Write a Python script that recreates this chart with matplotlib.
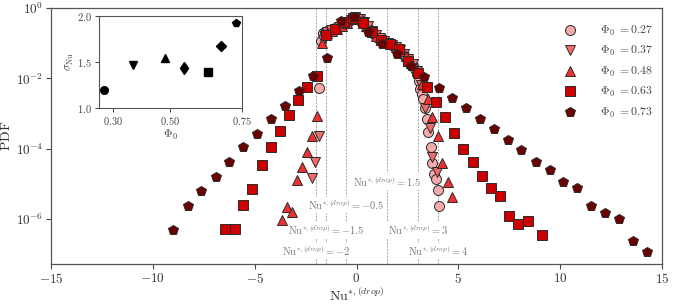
import numpy as np
import matplotlib
matplotlib.use("Agg")
import matplotlib.pyplot as plt

plt.rcParams['mathtext.fontset'] = 'cm'
plt.rcParams['font.family'] = ['serif']
plt.rcParams['font.serif'] = ['DejaVu Serif']

# ---------------- data ----------------
phi_labels = ["0.27", "0.37", "0.48", "0.63", "0.73"]

x027 = [-1.84, -1.75, -1.65, -1.55, -1.45, -1.35, -1.25, -1.15, -1.05, -0.95, -0.85, -0.75,
        -0.65, -0.55, -0.45, -0.35, -0.25, -0.15, -0.05, 0.05, 0.15, 0.25, 0.35, 0.45, 0.55,
        0.65, 0.75, 0.85, 0.95, 1.05, 1.15, 1.25, 1.35, 1.45, 1.55, 1.65, 1.75, 1.85, 1.95,
        2.05, 2.15, 2.25, 2.35, 2.45, 2.55, 2.65, 2.75, 2.85, 2.95, 3.06, 3.14, 3.2, 3.28,
        3.36, 3.44, 3.52, 3.64, 3.72, 3.81, 3.88, 3.98, 4.06]
l027 = [-2.28, -0.95, -0.72, -0.68, -0.66, -0.64, -0.62, -0.6, -0.58, -0.56, -0.53, -0.5,
        -0.47, -0.43, -0.4, -0.36, -0.32, -0.29, -0.27, -0.28, -0.32, -0.38, -0.44, -0.5, -0.56,
        -0.62, -0.68, -0.74, -0.79, -0.84, -0.88, -0.92, -0.95, -0.98, -1.0, -1.03, -1.06, -1.09,
        -1.13, -1.17, -1.22, -1.28, -1.35, -1.42, -1.5, -1.58, -1.66, -1.74, -1.85, -2.07, -2.31,
        -2.45, -2.59, -2.85, -3.17, -3.52, -3.94, -4.4, -4.72, -4.87, -5.17, -5.62]

x037 = [-2.2, -2.03, -1.84, -1.65, -1.45, -1.25, -1.05, -0.85, -0.65, -0.45, -0.25, -0.05,
        0.15, 0.35, 0.55, 0.75, 0.95, 1.15, 1.35, 1.55, 1.75, 1.95, 2.15, 2.35, 2.55, 2.75,
        2.95, 3.15, 3.36, 3.6, 3.73, 3.96]
l037 = [-4.84, -4.37, -3.64, -0.9, -0.68, -0.63, -0.59, -0.54, -0.48, -0.42, -0.33, -0.27,
        -0.3, -0.4, -0.52, -0.64, -0.76, -0.86, -0.94, -0.99, -1.04, -1.1, -1.19, -1.3, -1.44,
        -1.6, -1.78, -2.2, -2.85, -3.4, -4.23, -4.65]

x048 = [-3.65, -3.42, -3.15, -2.9, -2.67, -2.41, -2.17, -1.92, -1.71, -1.47, -1.22, -0.98,
        -0.73, -0.49, -0.24, 0.0, 0.25, 0.49, 0.74, 0.98, 1.23, 1.47, 1.72, 1.96, 2.21, 2.45,
        2.7, 2.96, 3.23, 3.5, 3.73, 3.98, 4.22, 4.5, 4.71]
l048 = [-6.03, -5.67, -5.81, -4.89, -4.53, -4.1, -3.63, -3.06, -0.99, -0.72, -0.64, -0.59,
        -0.52, -0.43, -0.32, -0.27, -0.35, -0.5, -0.67, -0.8, -0.91, -0.98, -1.03, -1.1, -1.22,
        -1.37, -1.56, -1.8, -2.15, -2.59, -3.09, -3.64, -4.4, -4.96, -5.37]

x063 = [-6.45, -5.99, -5.55, -5.11, -4.65, -4.2, -3.75, -3.31, -2.86, -2.41, -1.96, -1.51,
        -1.06, -0.6, -0.15, 0.3, 0.75, 1.2, 1.65, 2.1, 2.55, 3.0, 3.45, 3.9, 4.35, 4.8, 5.25,
        5.7, 6.15, 6.6, 7.05, 7.5, 7.95, 8.4, 9.13]
l063 = [-6.28, -6.28, -5.6, -5.16, -4.46, -3.94, -3.5, -3.04, -2.62, -2.25, -1.93, -0.76,
        -0.6, -0.4, -0.28, -0.44, -0.69, -0.9, -1.02, -1.17, -1.5, -1.85, -2.25, -2.66, -3.09,
        -3.55, -4.0, -4.39, -4.78, -5.11, -5.35, -5.91, -6.14, -6.06, -6.45]

x073 = [-9.0, -8.27, -7.62, -6.9, -6.24, -5.55, -4.88, -4.19, -3.5, -2.82, -2.15, -1.46,
        -0.78, -0.11, 0.58, 1.26, 1.97, 2.67, 3.32, 4.03, 4.7, 5.37, 6.05, 6.74, 7.43, 8.1,
        8.8, 9.48, 10.14, 10.84, 11.51, 12.21, 12.88, 13.57, 14.24]
l073 = [-6.32, -5.63, -5.19, -4.81, -4.39, -3.94, -3.57, -3.16, -2.79, -2.35, -1.92, -1.41,
        -0.38, -0.265, -0.68, -1.03, -1.32, -1.64, -1.97, -2.27, -2.57, -2.85, -3.16, -3.45,
        -3.75, -4.04, -4.39, -4.62, -4.96, -5.11, -5.62, -5.82, -6.0, -6.62, -6.94]

vlines = [-2, -1.5, -0.5, 1.5, 3, 4]
vline_labels = ["-2", "-1.5", "-0.5", "1.5", "3", "4"]
vline_label_logy = [-6.91, -6.31, -5.6, -4.94, -6.31, -6.91]

inset_phi = [0.27, 0.37, 0.48, 0.548, 0.63, 0.676, 0.729]
inset_sigma = [1.19, 1.46, 1.54, 1.43, 1.39, 1.67, 1.92]
inset_markers = ['o', 'v', '^', 'd', 's', 'D', 'p']

# ---------------- figure ----------------
fig = plt.figure(figsize=(6.73, 3.04), dpi=100)
ax = fig.add_axes([51/673, 1-264/304, (662-51)/673, (264-8)/304])

series = [(x027, l027, 'o', '#F7AAAA'),
          (x037, l037, 'v', '#F26B6B'),
          (x048, l048, '^', '#EE3030'),
          (x063, l063, 's', '#CC0000'),
          (x073, l073, 'p', '#6A0000')]
for (xs, ls, m, c), lab in zip(series, phi_labels):
    ax.plot(xs, 10.0**np.array(ls), linestyle='none', marker=m, ms=7.2,
            mfc=c, mec='#2a2a2a', mew=0.7, zorder=3,
            label=r'$\Phi_0\ {=}' + lab + r'$')

ax.set_yscale('log')
ax.set_xlim(-15, 15)
ax.set_ylim(10**-7.28, 1)

for v, vl, ly in zip(vlines, vline_labels, vline_label_logy):
    ax.axvline(v, color='#9a9a9a', lw=0.6, ls=(0, (2.5, 1.5)), zorder=1)
    ax.text(v, 10**ly, r'$\mathrm{Nu}^{*,(drop)}=' + vl + r'$',
            ha='center', va='center', fontsize=7.5, color='#777777', zorder=2,
            bbox=dict(facecolor='white', edgecolor='none', pad=0.8))

ax.set_xticks([-15, -10, -5, 0, 5, 10, 15])
ax.set_xticklabels([r'$-15$', r'$-10$', r'$-5$', r'$0$', r'$5$', r'$10$', r'$15$'])
ax.set_yticks([1, 1e-2, 1e-4, 1e-6])
ax.set_yticklabels([r'$10^{0}$', r'$10^{-2}$', r'$10^{-4}$', r'$10^{-6}$'])
ax.minorticks_off()
ax.tick_params(labelsize=9.5, direction='out', length=3.5, width=0.8, colors='#444444',
               labelcolor='#333333', pad=2)
for s in ax.spines.values():
    s.set_color('#555555')
    s.set_linewidth(0.9)
ax.set_xlabel(r'$\mathrm{Nu}^{*,(drop)}$', fontsize=10, color='#333333', labelpad=1)
ax.set_ylabel(r'$\mathrm{PDF}$', fontsize=10, color='#333333', labelpad=2)

leg = ax.legend(loc='upper right', frameon=False, fontsize=8.5, handletextpad=1.5,
                borderaxespad=0.6, labelspacing=0.55, bbox_to_anchor=(1.005, 0.985))
for t in leg.get_texts():
    t.set_color('#444444')

# ---------------- inset ----------------
ins = fig.add_axes([98.7/673, 1-107.7/304, (242-98.7)/673, (107.7-15.7)/304])
for px, sy, m in zip(inset_phi, inset_sigma, inset_markers):
    ms = 5.5
    if m == 'd':
        ms = 6.5
    ins.plot([px], [sy], marker=m, color='black', ms=ms, linestyle='none')
ins.set_xlim(0.25, 0.75)
ins.set_ylim(1.0, 2.0)
ins.set_xticks([0.30, 0.50, 0.75])
ins.set_xticklabels([r'$0.30$', r'$0.50$', r'$0.75$'])
ins.set_yticks([1.0, 1.5, 2.0])
ins.set_yticklabels([r'$1.0$', r'$1.5$', r'$2.0$'])
ins.tick_params(labelsize=7.5, direction='out', length=3, width=0.7, colors='#444444',
                labelcolor='#444444', pad=2)
for s in ins.spines.values():
    s.set_color('#555555')
    s.set_linewidth(0.8)
ins.set_xlabel(r'$\Phi_0$', fontsize=8.5, color='#444444', labelpad=1)
ins.set_ylabel(r'$\sigma_{\mathrm{Nu}}$', fontsize=8.5, color='#444444', labelpad=1)

fig.savefig('out.png', dpi=100)
